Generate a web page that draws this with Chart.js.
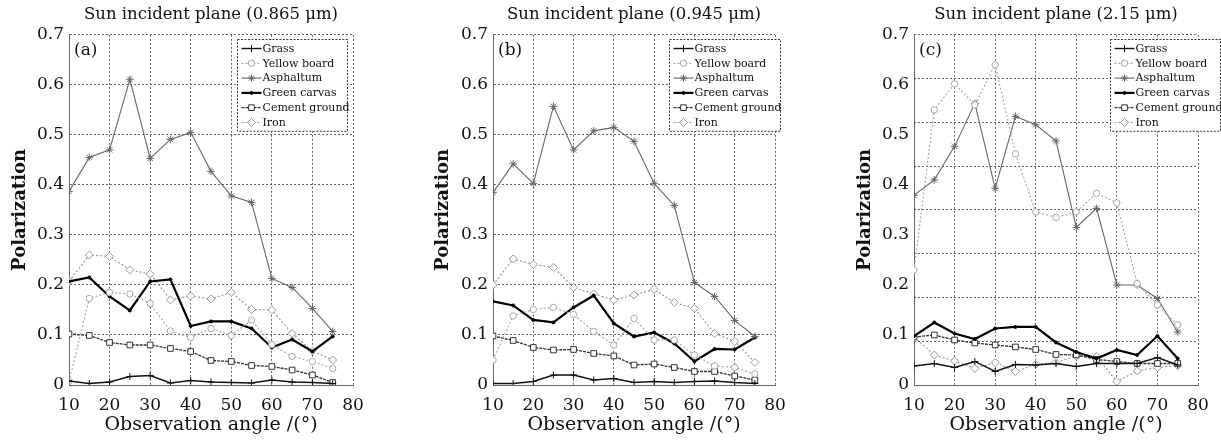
<!DOCTYPE html>
<html lang="en">
<head>
  <meta charset="UTF-8" />
  <title>Polarization vs observation angle</title>
  <script src="https://cdn.jsdelivr.net/npm/chart.js"></script>
  <style>
    body { margin: 0; background: #fff; }
    canvas { position: absolute; top: 0; }
    #chartA { left: 0; }
    #chartB { left: 410px; }
    #chartC { left: 815px; }
  </style>
</head>
<body>
  <canvas id="chartA" width="405" height="442"></canvas>
  <canvas id="chartB" width="405" height="442"></canvas>
  <canvas id="chartC" width="406" height="442"></canvas>

  <script>
    // observation angles (degrees)
    const angles = [10, 15, 20, 25, 30, 35, 40, 45, 50, 55, 60, 65, 70, 75];
    const seriesNames = ['Grass', 'Yellow board', 'Asphaltum', 'Green carvas', 'Cement ground', 'Iron'];
    const xTicks = [10, 20, 30, 40, 50, 60, 70, 80];
    const yTicks = [0, 0.1, 0.2, 0.3, 0.4, 0.5, 0.6, 0.7];

    // (a) 0.865 um
    const grassA   = [0.008, 0.003, 0.006, 0.017, 0.019, 0.004, 0.009, 0.006, 0.005, 0.004, 0.010, 0.006, 0.005, 0.003];
    const yellowA  = [0.007, 0.173, 0.185, 0.182, 0.163, 0.108, 0.095, 0.113, 0.099, 0.130, 0.081, 0.057, 0.047, 0.033];
    const asphaltA = [0.387, 0.455, 0.470, 0.611, 0.453, 0.491, 0.505, 0.427, 0.378, 0.365, 0.213, 0.195, 0.153, 0.107];
    const carvasA  = [0.207, 0.215, 0.177, 0.149, 0.207, 0.211, 0.118, 0.127, 0.127, 0.113, 0.075, 0.091, 0.067, 0.097];
    const cementA  = [0.102, 0.099, 0.085, 0.080, 0.080, 0.073, 0.067, 0.049, 0.047, 0.039, 0.037, 0.030, 0.020, 0.005];
    const ironA    = [0.207, 0.260, 0.257, 0.230, 0.222, 0.170, 0.178, 0.172, 0.185, 0.151, 0.150, 0.103, 0.068, 0.050];

    // (b) 0.945 um
    const grassB   = [0.003, 0.003, 0.007, 0.020, 0.020, 0.010, 0.013, 0.005, 0.007, 0.005, 0.007, 0.008, 0.005, 0.003];
    const yellowB  = [0.050, 0.138, 0.151, 0.155, 0.141, 0.107, 0.080, 0.133, 0.090, 0.090, 0.060, 0.038, 0.035, 0.022];
    const asphaltB = [0.385, 0.442, 0.403, 0.557, 0.470, 0.508, 0.515, 0.487, 0.403, 0.359, 0.205, 0.177, 0.129, 0.097];
    const carvasB  = [0.167, 0.159, 0.130, 0.125, 0.155, 0.179, 0.123, 0.097, 0.105, 0.083, 0.047, 0.072, 0.071, 0.095];
    const cementB  = [0.098, 0.089, 0.075, 0.070, 0.071, 0.063, 0.058, 0.040, 0.042, 0.035, 0.027, 0.027, 0.018, 0.010];
    const ironB    = [0.200, 0.252, 0.241, 0.235, 0.195, 0.182, 0.170, 0.180, 0.191, 0.165, 0.153, 0.103, 0.087, 0.045];

    // (c) 2.15 um
    const grassC   = [0.038, 0.043, 0.035, 0.047, 0.027, 0.041, 0.040, 0.043, 0.037, 0.043, 0.043, 0.043, 0.055, 0.040];
    const yellowC  = [0.230, 0.550, 0.602, 0.560, 0.640, 0.462, 0.346, 0.335, 0.346, 0.383, 0.364, 0.203, 0.160, 0.120];
    const asphaltC = [0.379, 0.410, 0.477, 0.563, 0.393, 0.537, 0.520, 0.488, 0.315, 0.353, 0.200, 0.200, 0.173, 0.106];
    const carvasC  = [0.098, 0.125, 0.103, 0.092, 0.113, 0.116, 0.116, 0.085, 0.066, 0.053, 0.070, 0.060, 0.098, 0.053];
    const cementC  = [0.096, 0.100, 0.090, 0.084, 0.080, 0.076, 0.071, 0.061, 0.060, 0.051, 0.047, 0.043, 0.043, 0.043];
    const ironC    = [0.096, 0.060, 0.048, 0.033, 0.045, 0.027, 0.041, 0.045, 0.058, 0.057, 0.007, 0.028, 0.035, 0.039];

    const serif = '"DejaVu Serif", serif';

    // line / marker look per series (same order as seriesNames)
    const looks = [
      { borderColor: '#111', borderWidth: 1.4, borderDash: [], pointStyle: 'cross', pointRadius: 3.5, pointBackgroundColor: '#111' },
      { borderColor: '#a8a8a8', borderWidth: 1.2, borderDash: [2, 2], pointStyle: 'circle', pointRadius: 3.2, pointBackgroundColor: '#fff' },
      { borderColor: '#666', borderWidth: 1.1, borderDash: [], pointStyle: 'star', pointRadius: 3.8, pointBackgroundColor: '#666' },
      { borderColor: '#000', borderWidth: 2.2, borderDash: [], pointStyle: 'circle', pointRadius: 1.5, pointBackgroundColor: '#000' },
      { borderColor: '#333', borderWidth: 1.3, borderDash: [3, 1], pointStyle: 'rect', pointRadius: 4, pointBackgroundColor: '#fff' },
      { borderColor: '#9a9a9a', borderWidth: 1.2, borderDash: [2, 2], pointStyle: 'rectRot', pointRadius: 4, pointBackgroundColor: '#fff' }
    ];

    const panelDecor = {
      id: 'panelDecor',
      afterDraw(chart, args, opts) {
        const { ctx, chartArea } = chart;
        ctx.save();
        ctx.fillStyle = '#111';
        ctx.textBaseline = 'middle';
        ctx.font = '17px ' + serif;
        ctx.fillText(opts.letter, chartArea.left + 5, chartArea.top + 16);

        const x0 = Math.round(chartArea.right + opts.legendDx) + 0.5;
        const y0 = Math.round(chartArea.top + 4) + 0.5;
        const rowH = 14.8;
        const h = rowH * 6 + 3;
        ctx.fillStyle = '#fff';
        ctx.fillRect(x0, y0, opts.legendW, h);
        ctx.setLineDash([2, 1.5]);
        ctx.strokeStyle = '#333';
        ctx.lineWidth = 1;
        ctx.strokeRect(x0, y0, opts.legendW, h);

        ctx.font = '11px ' + serif;
        chart.data.datasets.forEach((ds, i) => {
          const cy = y0 + 9 + i * rowH;
          ctx.setLineDash(ds.borderDash || []);
          ctx.strokeStyle = ds.borderColor;
          ctx.lineWidth = ds.borderWidth;
          ctx.beginPath();
          ctx.moveTo(x0 + 4, cy);
          ctx.lineTo(x0 + 24, cy);
          ctx.stroke();
          ctx.setLineDash([]);
          ctx.lineWidth = 1;
          ctx.fillStyle = ds.pointBackgroundColor;
          Chart.helpers.drawPoint(ctx, { pointStyle: ds.pointStyle, radius: ds.pointRadius, borderWidth: 1, rotation: 0 }, x0 + 14, cy);
          ctx.fillStyle = '#111';
          ctx.fillText(ds.label, x0 + 25, cy + 0.5);
        });
        ctx.restore();
      }
    };

    function makePanel(id, p) {
      const datasets = seriesNames.map((name, i) => Object.assign({
        label: name,
        data: angles.map((a, k) => ({ x: a, y: p.values[i][k] })),
        pointBorderWidth: 1,
        tension: 0
      }, looks[i]));

      const scales = {
        x: {
          type: 'linear', min: 10, max: 80,
          afterBuildTicks: s => { s.ticks = xTicks.map(v => ({ value: v })); },
          ticks: { padding: 10, color: '#111', font: { family: serif, size: 17 }, maxRotation: 0 },
          grid: { color: '#666', drawTicks: false },
          border: { color: '#666', dash: [2, 2] },
          title: { display: true, text: 'Observation angle /(°)', color: '#111',
                   font: { family: serif, size: 19 }, padding: { top: 0, bottom: 6 } },
          afterFit: s => { s.height = 57; }
        },
        y: {
          min: 0, max: 0.7,
          afterBuildTicks: s => { s.ticks = yTicks.map(v => ({ value: v })); },
          ticks: { padding: 5, color: '#111', font: { family: serif, size: 17 }, callback: v => String(+v.toFixed(1)) },
          grid: { color: '#666', drawTicks: false, display: !p.splitGrid },
          border: { color: '#666', dash: [2, 2] },
          title: { display: true, text: 'Polarization', color: '#111',
                   font: { family: serif, size: 18, weight: 'bold' }, padding: { top: p.yTitlePad, bottom: 0 } },
          afterFit: s => { s.width = p.left; }
        }
      };
      if (p.splitGrid) {
        // panel (c) draws its horizontal grid in 8 intervals
        scales.yg = {
          position: 'right', min: 0, max: 0.7,
          ticks: { display: false, count: 9 },
          grid: { color: '#666', drawTicks: false },
          border: { display: false, dash: [2, 2] },
          afterFit: s => { s.width = 0; }
        };
      }

      new Chart(document.getElementById(id), {
        type: 'line',
        data: { datasets },
        options: {
          responsive: false,
          animation: false,
          layout: { padding: { left: 0, right: p.right, top: 0, bottom: 0 } },
          scales,
          plugins: {
            legend: { display: false },
            tooltip: { enabled: false },
            title: { display: true, text: p.title, fullSize: false, color: '#111',
                     font: { family: serif, size: 16.5, weight: 'normal' }, padding: { top: 5, bottom: 10 } },
            panelDecor: { letter: p.letter, legendDx: p.legendDx, legendW: p.legendW }
          }
        },
        plugins: [panelDecor]
      });
    }

    makePanel('chartA', {
      title: 'Sun incident plane (0.865 μm)', letter: '(a)',
      values: [grassA, yellowA, asphaltA, carvasA, cementA, ironA],
      left: 69, right: 52, yTitlePad: 10, legendDx: -116, legendW: 110, splitGrid: false
    });
    makePanel('chartB', {
      title: 'Sun incident plane (0.945 μm)', letter: '(b)',
      values: [grassB, yellowB, asphaltB, carvasB, cementB, ironB],
      left: 83, right: 40, yTitlePad: 23, legendDx: -106, legendW: 111, splitGrid: false
    });
    makePanel('chartC', {
      title: 'Sun incident plane (2.15 μm)', letter: '(c)',
      values: [grassC, yellowC, asphaltC, carvasC, cementC, ironC],
      left: 99, right: 23, yTitlePad: 40, legendDx: -88, legendW: 110, splitGrid: true
    });
  </script>
</body>
</html>
